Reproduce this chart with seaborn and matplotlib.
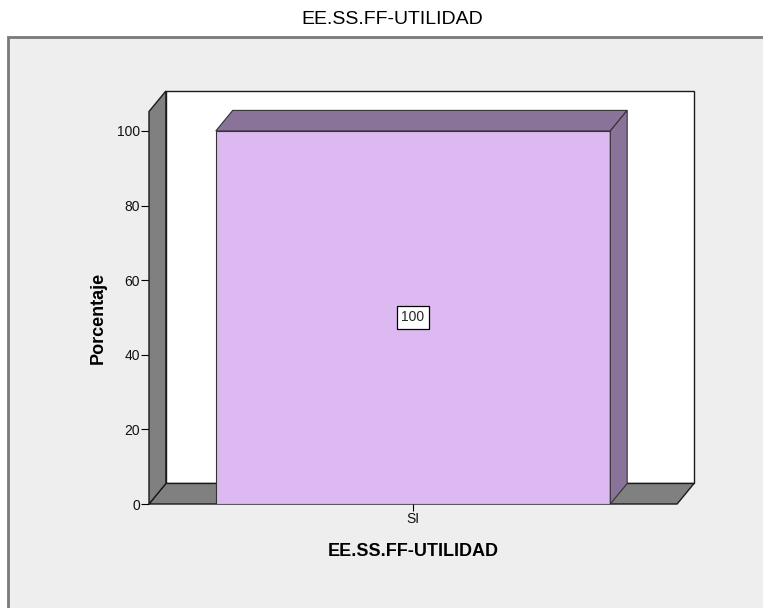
import matplotlib
matplotlib.use("Agg")
import matplotlib.pyplot as plt
from matplotlib.patches import Polygon, Rectangle
import pandas as pd
import seaborn as sns

# datos del grafico
categorias = ["SI"]
porcentaje = [100]
ticks_y = [0, 20, 40, 60, 80, 100]
titulo = "EE.SS.FF-UTILIDAD"

# colores estilo SPSS
frente = "#DDB9F2"
lado = "#8A7399"
pared = "#808080"
borde = "#1a1a1a"

df = pd.DataFrame({"respuesta": categorias, "porcentaje": porcentaje})

sns.set_theme(style="white")
plt.rcParams["font.family"] = ["Liberation Sans", "DejaVu Sans"]

fig = plt.figure(figsize=(7.63, 6.08), dpi=100)
fig.patch.set_facecolor("white")

# marco gris de fondo
fig.add_artist(Rectangle((8 / 763, -0.02), 1.0, 1 - 37 / 608 + 0.02,
                         transform=fig.transFigure, fc="#EEEEEE",
                         ec="#7a7a7a", lw=2, zorder=-1))

ax = fig.add_axes([149 / 763, 104 / 608, 545 / 763, 413 / 608])
ax.patch.set_visible(False)

sns.barplot(data=df, x="respuesta", y="porcentaje", color=frente,
            saturation=1, width=0.747, edgecolor="#333333", linewidth=0.8,
            ax=ax, zorder=3)
barras = list(ax.patches)

# profundidad del efecto 3D
ymax = 110.7
dx = 0.032
dy = 5.5
ax.set_xlim(-0.5, 0.5 + dx)
ax.set_ylim(0, ymax)

# paredes y suelo
ax.add_patch(Rectangle((-0.5 + dx, dy), 1.0, ymax - dy, fc="white",
                       ec=borde, lw=1, zorder=1, clip_on=False))
ax.add_patch(Polygon([(-0.5, 0), (0.5, 0), (0.5 + dx, dy), (-0.5 + dx, dy)],
                     closed=True, fc=pared, ec=borde, lw=1, zorder=1.5,
                     clip_on=False))
ax.add_patch(Polygon([(-0.5, 0), (-0.5, ymax - dy), (-0.5 + dx, ymax),
                      (-0.5 + dx, dy)],
                     closed=True, fc=pared, ec=borde, lw=1, zorder=1.5,
                     clip_on=False))

# caras superior y lateral de cada barra
for p in barras:
    x0 = p.get_x()
    w = p.get_width()
    h = p.get_height()
    ax.add_patch(Polygon([(x0, h), (x0 + w, h), (x0 + w + dx, h + dy),
                          (x0 + dx, h + dy)],
                         closed=True, fc=lado, ec="#333333", lw=0.8,
                         zorder=3, clip_on=False))
    ax.add_patch(Polygon([(x0 + w, 0), (x0 + w + dx, dy),
                          (x0 + w + dx, h + dy), (x0 + w, h)],
                         closed=True, fc=lado, ec="#333333", lw=0.8,
                         zorder=3, clip_on=False))

ax.bar_label(ax.containers[0], fmt="%g", label_type="center", fontsize=10,
             bbox=dict(boxstyle="square,pad=0.3", fc="white", ec="black",
                       lw=0.9), zorder=5)

for s in ax.spines.values():
    s.set_visible(False)
ax.grid(False)

ax.set_yticks(ticks_y)
ax.tick_params(axis="y", left=True, length=5.5, width=0.8, color="black",
               labelsize=10, pad=1, labelcolor="#111111")
ax.tick_params(axis="x", bottom=True, length=5, width=0.8, color="black",
               labelsize=10, pad=1, labelcolor="#111111")

ax.set_xlabel(titulo, fontsize=13, fontweight="bold", color="black")
ax.xaxis.set_label_coords((413 - 149) / 545, -39 / 413)
ax.set_ylabel("Porcentaje", fontsize=13, fontweight="bold", color="black")
ax.yaxis.set_label_coords(-0.077, (504 - 318) / 413)

fig.text(392 / 763, 1 - 19 / 608, titulo, ha="center", va="center",
         fontsize=14, color="black")

fig.savefig("out.png", dpi=100)
